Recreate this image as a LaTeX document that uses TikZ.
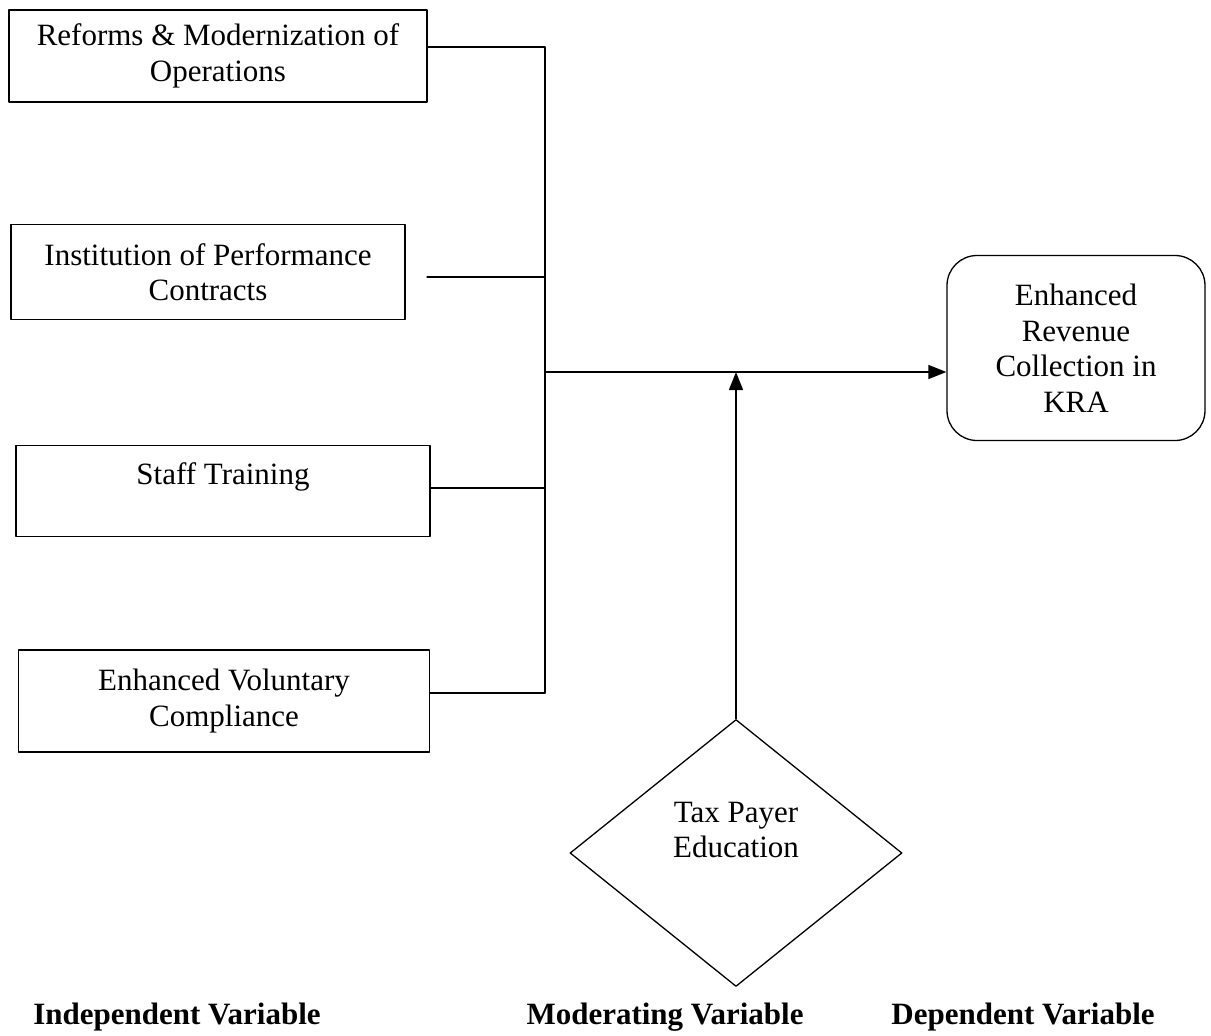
\documentclass[tikz,border=0pt]{standalone}
\usepackage{fontspec}
\setmainfont{Liberation Serif}
\usetikzlibrary{arrows.meta,shapes.geometric}
\begin{document}
\begin{tikzpicture}[
  x=1pt, y=-1pt,
  line cap=round,
  line join=round,
  every node/.style={font=\fontsize{31}{35.5}\selectfont, inner sep=0pt, align=center},
  var/.style={draw, line width=1.3pt, minimum height=#1},
  goal/.style={draw, line width=1.3pt, rounded corners=30pt,
    minimum width=258pt, minimum height=185pt},
  moder/.style={draw, line width=1.3pt, shape=diamond, aspect=1.243,
    minimum width=332pt, minimum height=267pt},
  heading/.style={font=\fontsize{31}{35}\selectfont\bfseries},
  link/.style={line width=1.3pt},
  arrow/.style={line width=1.3pt, -{Triangle[length=18pt,width=14pt]}}
]
  \useasboundingbox (0,0) rectangle (1211,1036);

  % Independent variables
  \node[var=92pt,  minimum width=418pt] (reforms)  at (218,56)
    {Reforms \& Modernization of\\Operations};
  \node[var=95pt,  minimum width=394pt] (contract) at (208,272)
    {Institution of Performance\\Contracts};
  \node[var=91pt,  minimum width=414pt] (training) at (223,491)
    {Staff Training\\\mbox{}};
  \node[var=102pt, minimum width=411pt] (comply)   at (224,701)
    {Enhanced Voluntary\\Compliance};

  % Dependent variable
  \node[goal] (revenue) at (1076,348)
    {Enhanced\\Revenue\\Collection in\\KRA};

  % Moderating variable
  \node[moder] (educ) at (736,853) {};
  \node (eductext) at (736,830) {Tax Payer\\Education};

  % Joints on the collecting line
  \coordinate (j1) at (545,47);
  \coordinate (j2) at (545,277);
  \coordinate (j3) at (545,488);
  \coordinate (j4) at (545,693);
  \coordinate (jm) at (545,372);
  \coordinate (s2) at (427,277);

  % Collecting lines
  \draw[link] (reforms.east |- j1) -- (j1);
  \draw[link] (s2) -- (j2);
  \draw[link] (training.east |- j3) -- (j3);
  \draw[link] (comply.east |- j4) -- (j4);
  \draw[link] (j1) -- (j4);

  % Arrows
  \draw[arrow] (jm) -- (revenue.west |- jm);
  \draw[arrow] (educ.north) -- (educ.north |- jm);

  % Headings
  \node[heading] (indep) at (177,1017) {Independent Variable};
  \node[heading] (moderh) at (665,1017) {Moderating Variable};
  \node[heading] (dep)   at (1023,1017) {Dependent Variable};
\end{tikzpicture}
\end{document}
